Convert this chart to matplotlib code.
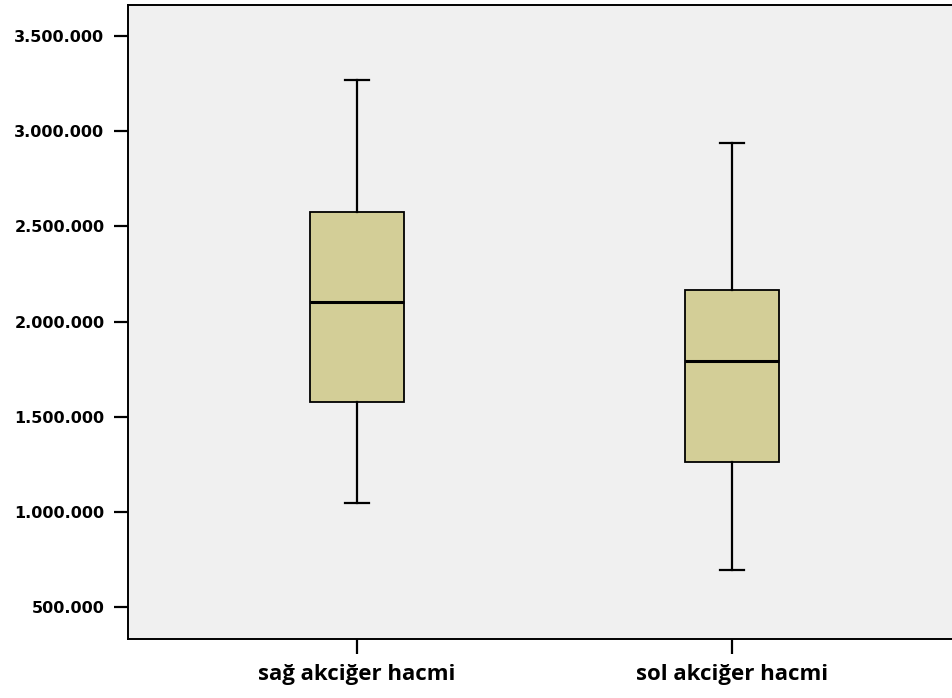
import matplotlib
matplotlib.use("Agg")
import matplotlib.pyplot as plt
from matplotlib.ticker import FuncFormatter

# values
labels = ["sağ akciğer hacmi", "sol akciğer hacmi"]
whis_lo = [1049000, 695000]
q1 = [1579000, 1261000]
med = [2101000, 1795000]
q3 = [2574000, 2164000]
whis_hi = [3269000, 2938000]
yticks = [500000, 1000000, 1500000, 2000000, 2500000, 3000000, 3500000]

plt.rcParams["font.weight"] = "bold"

stats = []
for i in range(len(labels)):
    stats.append({"label": labels[i], "whislo": whis_lo[i], "q1": q1[i],
                  "med": med[i], "q3": q3[i], "whishi": whis_hi[i], "fliers": []})

fig = plt.figure(figsize=(9.52, 6.98), dpi=100)
ax = fig.add_axes([128 / 952, 1 - 639.3 / 698, 833 / 952, 634.6 / 698])
ax.set_facecolor("#f0f0f0")

line = dict(color="black", linewidth=1.6)
ax.bxp(stats, positions=[1, 2], widths=0.252, patch_artist=True,
       boxprops=dict(facecolor="#d3ce97", edgecolor="black", linewidth=1.3),
       medianprops=dict(color="black", linewidth=2.2),
       whiskerprops=line, capprops=line, capwidths=0.062, showfliers=False)

ax.set_xlim(1 - 229 / 375, 2 + 229 / 375)
ax.set_ylim(332000, 3664000)
ax.set_yticks(yticks)
ax.yaxis.set_major_formatter(FuncFormatter(lambda v, p: f"{int(v):,}".replace(",", ".")))

for s in ["top", "left", "bottom", "right"]:
    ax.spines[s].set_linewidth(1.4)

ax.tick_params(axis="y", length=10, width=1.6, pad=7,
               labelsize=11.5, labelfontfamily="DejaVu Sans")
ax.tick_params(axis="x", length=11, width=1.6, pad=7,
               labelsize=16, labelfontfamily="Open Sans")

fig.savefig("out.png", dpi=100)
